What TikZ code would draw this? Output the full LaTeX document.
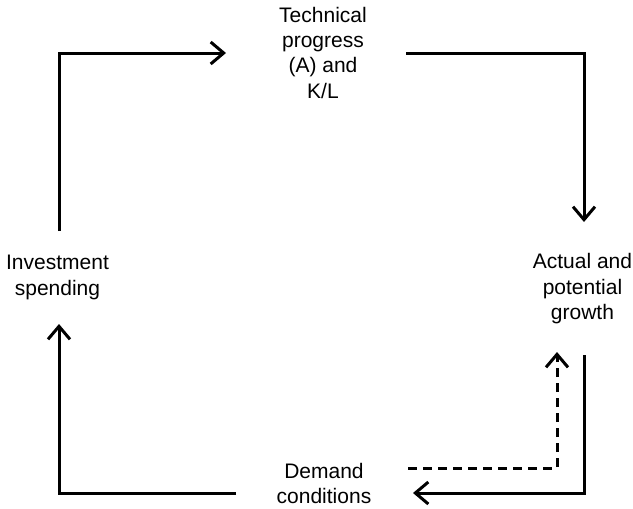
\documentclass[tikz,border=0pt]{standalone}
\usepackage{fontspec}
\setmainfont{Liberation Sans}
\usepackage{tikz}
\usetikzlibrary{arrows.meta,positioning}

\begin{document}
\begin{tikzpicture}[x=0.5pt,y=-0.5pt,
    lbl/.style={anchor=north,inner sep=0pt,align=center,font=\fontsize{10.5}{12.7}\selectfont},
    flow/.style={line width=1.5pt,-{Straight Barb[length=6.5pt,width=11pt]}},
    hint/.style={flow,dash pattern=on 4.5pt off 3pt}]
        \useasboundingbox (0,0) rectangle (633,509);
        \node[lbl] (tech) at (323,6.5) {Technical\\progress\\(A) and\\K/L};
        \node[lbl] (invest) at (57.5,255) {Investment\\spending};
        \node[lbl] (growth) at (582.5,253) {Actual and\\potential\\growth};
        \node[lbl] (demand) at (324,462.5) {Demand\\conditions};
        \coordinate (invOut) at (59,231);
        \coordinate (techIn) at (226,53);
        \coordinate (techOut) at (406,53);
        \coordinate (growIn) at (584,222);
        \coordinate (growOut) at (584,355);
        \coordinate (demIn) at (413,493);
        \coordinate (demOut) at (236,493);
        \coordinate (invIn) at (59,324);
        \coordinate (fbOut) at (408,468);
        \coordinate (fbIn) at (557,352);
        \draw[flow] (invOut) |- (techIn);
        \draw[flow] (techOut) -| (growIn);
        \draw[flow] (growOut) |- (demIn);
        \draw[flow] (demOut) -| (invIn);
        \draw[hint] (fbOut) -| (fbIn);
      \end{tikzpicture}
\end{document}
